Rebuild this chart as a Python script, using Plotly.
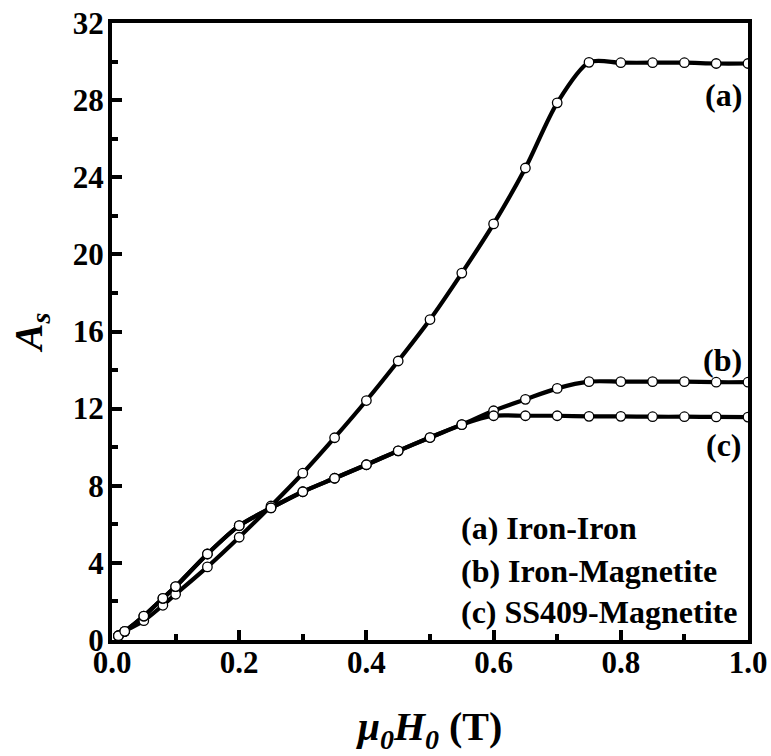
import plotly.graph_objects as go

# Data
field_T = [0.01, 0.02, 0.05, 0.08, 0.10, 0.15, 0.20, 0.25, 0.30, 0.35, 0.40, 0.45,
           0.50, 0.55, 0.60, 0.65, 0.70, 0.75, 0.80, 0.85, 0.90, 0.95, 1.00]
iron_iron = [0.22, 0.45, 1.00, 1.80, 2.37, 3.79, 5.33, 6.95, 8.65, 10.49, 12.42, 14.47,
             16.62, 19.03, 21.58, 24.48, 27.86, 29.96, 29.94, 29.94, 29.94, 29.90, 29.90]
iron_magnetite = [0.22, 0.45, 1.24, 2.16, 2.77, 4.46, 5.93, 6.85, 7.69, 8.39, 9.09, 9.81,
                  10.50, 11.17, 11.89, 12.48, 13.05, 13.40, 13.40, 13.40, 13.40, 13.37, 13.37]
ss409_magnetite = [0.22, 0.45, 1.24, 2.16, 2.77, 4.46, 5.93, 6.85, 7.69, 8.39, 9.09, 9.81,
                   10.50, 11.17, 11.63, 11.63, 11.63, 11.60, 11.60, 11.58, 11.58, 11.57, 11.56]

series = [("(a) Iron-Iron", iron_iron, "(a)"),
          ("(b) Iron-Magnetite", iron_magnetite, "(b)"),
          ("(c) SS409-Magnetite", ss409_magnetite, "(c)")]

x_ticks = [0.0, 0.2, 0.4, 0.6, 0.8, 1.0]
y_ticks = [0, 4, 8, 12, 16, 20, 24, 28, 32]

FONT = "Liberation Serif, Times New Roman, serif"

fig = go.Figure()
for name, vals, _ in series:
    fig.add_trace(go.Scatter(x=field_T, y=vals, mode="lines", name=name,
                             line=dict(color="black", width=4.2, shape="spline", smoothing=0.8),
                             showlegend=False, hoverinfo="skip"))
for name, vals, _ in series:
    fig.add_trace(go.Scatter(x=field_T, y=vals, mode="markers", name=name,
                             marker=dict(size=9.5, color="white", line=dict(color="black", width=1.3)),
                             showlegend=False))

axis_common = dict(
    showline=True, linecolor="black", linewidth=4, mirror=True,
    ticks="inside", ticklen=10, tickwidth=3.5, tickcolor="black",
    showgrid=False, zeroline=False,
    tickfont=dict(family=FONT, size=31, color="black", weight="bold"),
)

fig.update_xaxes(range=[0, 1], tickvals=x_ticks, ticktext=[f"{v:.1f}" for v in x_ticks],
                 minor=dict(ticks="inside", ticklen=6, tickwidth=3.5, tickcolor="black", dtick=0.1, tick0=0),
                 title=dict(text="<b><i>μ<sub>0</sub>H<sub>0</sub></i> (T)</b>",
                            font=dict(family=FONT, size=40, color="black"), standoff=34),
                 ticklabelstandoff=-8,
                 **axis_common)
fig.update_yaxes(range=[0, 32], tickvals=y_ticks, ticktext=[str(v) for v in y_ticks],
                 minor=dict(ticks="inside", ticklen=6, tickwidth=3.5, tickcolor="black", dtick=2, tick0=0),
                 title=dict(text="<b><i>A<sub>s</sub></i></b>",
                            font=dict(family=FONT, size=40, color="black"), standoff=19),
                 ticklabelstandoff=-2,
                 **axis_common)

# Curve labels at right edge
label_y = {"(a)": 0.883, "(b)": 0.454, "(c)": 0.316}
for _, _, tag in series:
    fig.add_annotation(text=f"<b>{tag}</b>", xref="paper", yref="paper",
                       x=0.993, y=label_y[tag], xanchor="right", yanchor="middle",
                       showarrow=False, font=dict(family=FONT, size=32, color="black"))

# Text legend (no symbols)
legend_y = [0.1815, 0.112, 0.0454]
for (name, _, _), yy in zip(series, legend_y):
    fig.add_annotation(text=f"<b>{name}</b>", xref="paper", yref="paper",
                       x=0.545, y=yy, xanchor="left", yanchor="middle",
                       showarrow=False, font=dict(family=FONT, size=32, color="black"))

fig.update_layout(width=771, height=756, margin=dict(l=112, r=23, t=23, b=116, autoexpand=False),
                  plot_bgcolor="white", paper_bgcolor="white")

fig.write_html("out.html")
